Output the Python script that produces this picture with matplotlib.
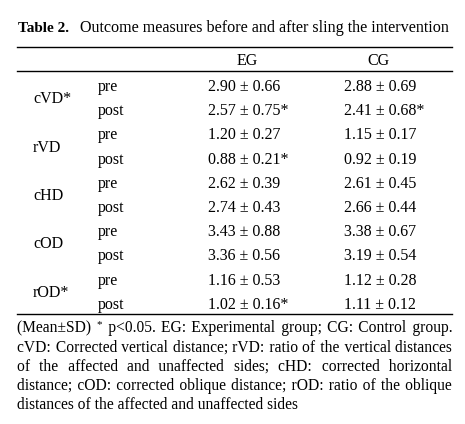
import matplotlib
matplotlib.use("Agg")
import matplotlib.pyplot as plt

# data from the table
measures = ["cVD", "rVD", "cHD", "cOD", "rOD"]
measure_sig = [True, False, False, False, True]
times = ["pre", "post"]
eg_mean = [2.90, 2.57, 1.20, 0.88, 2.62, 2.74, 3.43, 3.36, 1.16, 1.02]
eg_sd = [0.66, 0.75, 0.27, 0.21, 0.39, 0.43, 0.88, 0.56, 0.53, 0.16]
eg_sig = [False, True, False, True, False, False, False, False, False, True]
cg_mean = [2.88, 2.41, 1.15, 0.92, 2.61, 2.66, 3.38, 3.19, 1.12, 1.11]
cg_sd = [0.69, 0.68, 0.17, 0.19, 0.45, 0.44, 0.67, 0.54, 0.28, 0.12]
cg_sig = [False, True, False, False, False, False, False, False, False, False]
groups = ["EG", "CG"]

title_bold = "Table 2."
title_rest = "Outcome measures before and after sling the intervention"
footnote_lines = [
    "(Mean\u00b1SD) ^* p<0.05. EG: Experimental group; CG: Control group.",
    "cVD: Corrected vertical distance; rVD: ratio of the vertical distances",
    "of the affected and unaffected sides; cHD: corrected horizontal",
    "distance; cOD: corrected oblique distance; rOD: ratio of the oblique",
    "distances of the affected and unaffected sides",
]

plt.rcParams["font.family"] = ["Liberation Serif", "DejaVu Serif"]
fs = 11.5
ffs = 11.2  # footnote size
bl = 4  # center -> baseline offset

fig = plt.figure(figsize=(4.65, 4.24), dpi=100)
ax = fig.add_axes([0, 0, 1, 1])
ax.set_xlim(0, 465)
ax.set_ylim(424, 0)
ax.axis("off")

left, right = 17, 452

# title
ax.text(18, 28 + bl, title_bold, fontsize=11, fontweight="bold", va="baseline")
ax.text(80, 28 + bl, title_rest, fontsize=11.62, va="baseline")

# rules
for y in [47, 71, 314]:
    ax.plot([left, right], [y, y], color="black", lw=1.0)

# header
col_x = [247, 378]
for g, x in zip(groups, col_x):
    ax.text(x, 61 + bl, g, fontsize=fs, ha="center", va="baseline")

# body
row_y0 = 87
row_h = 24.2
for i, m in enumerate(measures):
    y_pre = row_y0 + (2 * i) * row_h
    y_post = y_pre + row_h
    ax.text(33, (y_pre + y_post) / 2 + bl, m + ("*" if measure_sig[i] else ""),
            fontsize=fs, va="baseline")
    for j, t in enumerate(times):
        k = 2 * i + j
        y = y_pre + j * row_h + bl
        ax.text(98, y, t, fontsize=fs, va="baseline")
        s1 = f"{eg_mean[k]:.2f} \u00b1 {eg_sd[k]:.2f}" + ("*" if eg_sig[k] else "")
        s2 = f"{cg_mean[k]:.2f} \u00b1 {cg_sd[k]:.2f}" + ("*" if cg_sig[k] else "")
        ax.text(208, y, s1, fontsize=fs, va="baseline")
        ax.text(344, y, s2, fontsize=fs, va="baseline")

# footnote, justified with hair spaces
fig.canvas.draw()
renderer = fig.canvas.get_renderer()


def width(s, size=ffs):
    t = ax.text(0, 0, "a" + s + "b", fontsize=size)
    w = t.get_window_extent(renderer).width
    t.remove()
    t = ax.text(0, 0, "ab", fontsize=size)
    w -= t.get_window_extent(renderer).width
    t.remove()
    return w


space_w = width(" ")
fill, fill_w = " ", space_w
for ch in ["\u200a", "\u2009", "\u2006"]:
    cw = width(ch)
    if 0.3 < cw < space_w:
        fill, fill_w = ch, cw
        break

foot_y0 = 328
foot_h = 19.2
for li, line in enumerate(footnote_lines):
    y = foot_y0 + li * foot_h + bl
    words = line.split(" ")
    natural = 0
    for w in words:
        natural += width(w[1:], 8) if w.startswith("^") else width(w)
    natural += (len(words) - 1) * space_w
    last = li == len(footnote_lines) - 1
    extra = 0 if last else max(0, (right - left - natural) / (len(words) - 1))
    x = left
    seg = ""
    done = 0
    for i, w in enumerate(words):
        if i > 0:
            want = round(extra * i / fill_w)
            seg += " " + fill * (want - done)
            done = want
        if w.startswith("^"):
            if seg:
                ax.text(x, y, seg, fontsize=ffs, va="baseline")
                x += width(seg)
            ax.text(x, y - 5, w[1:], fontsize=8, va="baseline")
            x += width(w[1:], 8)
            seg = ""
        else:
            seg += w
    ax.text(x, y, seg, fontsize=ffs, va="baseline")

fig.savefig("out.png", dpi=100)
